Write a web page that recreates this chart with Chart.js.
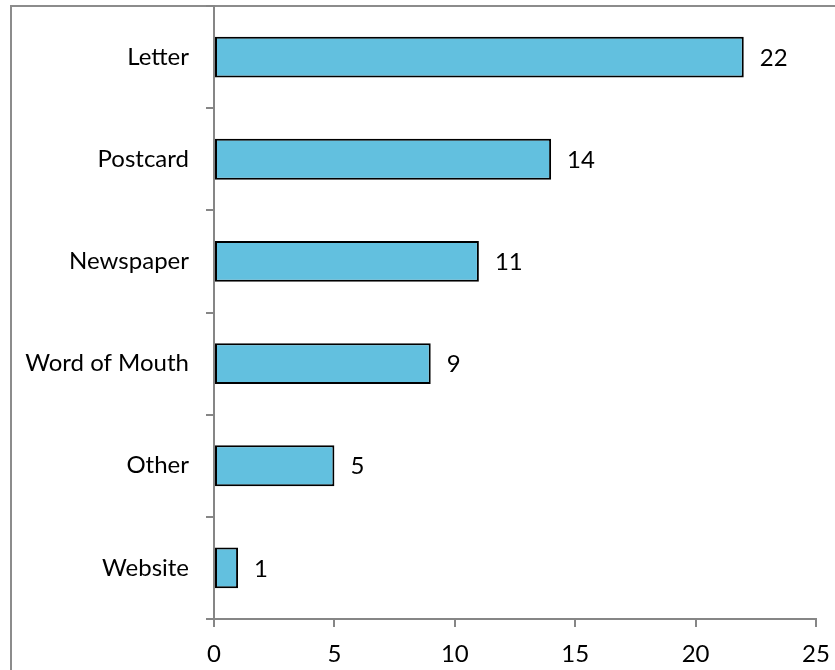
<!DOCTYPE html>
<html>
<head>
<meta charset="utf-8">
<script src="https://cdn.jsdelivr.net/npm/chart.js@4.4.1/dist/chart.umd.min.js"></script>
<style>
  html, body { margin: 0; padding: 0; background: #fff; }
  #wrap { width: 835px; height: 670px; }
</style>
</head>
<body>
<div id="wrap"><canvas id="c" width="835" height="670"></canvas></div>
<script>
const categories = ["Letter", "Postcard", "Newspaper", "Word of Mouth", "Other", "Website"];
const responses = [22, 14, 11, 9, 5, 1];
const xTicks = [0, 5, 10, 15, 20, 25];

const FONT = "Lato, 'Open Sans', sans-serif";
const FONT_SIZE = 24;
const AXIS_GRAY = "#868686";

// Outer frame around the chart
const framePlugin = {
  id: "frame",
  beforeDraw(chart) {
    const ctx = chart.ctx;
    ctx.save();
    ctx.strokeStyle = "#8c8c8c";
    ctx.lineWidth = 2;
    ctx.strokeRect(11, 6, chart.width + 20, chart.height + 20);
    ctx.restore();
  }
};

// Value labels to the right of each bar
const valueLabels = {
  id: "valueLabels",
  afterDatasetsDraw(chart) {
    const ctx = chart.ctx;
    const meta = chart.getDatasetMeta(0);
    ctx.save();
    ctx.font = FONT_SIZE + "px " + FONT;
    ctx.fillStyle = "#000";
    ctx.textAlign = "left";
    ctx.textBaseline = "middle";
    meta.data.forEach((bar, i) => {
      ctx.fillText(String(chart.data.datasets[0].data[i]), bar.x + 16, bar.y + 1);
    });
    ctx.restore();
  }
};

function noPad(s) {
  s.paddingTop = 0; s.paddingBottom = 0; s.paddingLeft = 0; s.paddingRight = 0;
}

new Chart(document.getElementById("c"), {
  type: "bar",
  data: {
    labels: categories,
    datasets: [{
      data: responses,
      backgroundColor: "#62c0df",
      borderColor: "#000",
      borderWidth: 2,
      borderSkipped: false,
      categoryPercentage: 1,
      barPercentage: 0.4
    }]
  },
  options: {
    indexAxis: "y",
    responsive: false,
    animation: false,
    devicePixelRatio: 1,
    layout: { padding: { left: 0, top: 6, right: 19, bottom: 0 } },
    plugins: { legend: { display: false }, tooltip: { enabled: false } },
    scales: {
      x: {
        min: 0,
        max: 25,
        afterFit(s) { s.height = 51; noPad(s); },
        afterBuildTicks(s) { s.ticks = xTicks.map(v => ({ value: v })); },
        grid: { drawOnChartArea: false, tickLength: 8, color: AXIS_GRAY, lineWidth: 2 },
        border: { color: AXIS_GRAY, width: 2 },
        ticks: { font: { family: FONT, size: FONT_SIZE }, color: "#000", padding: 13 }
      },
      y: {
        afterFit(s) { s.width = 214; noPad(s); },
        grid: { drawOnChartArea: false, tickLength: 8, color: AXIS_GRAY, lineWidth: 2 },
        border: { color: AXIS_GRAY, width: 2 },
        ticks: { font: { family: FONT, size: FONT_SIZE }, color: "#000", padding: 17 }
      }
    }
  },
  plugins: [framePlugin, valueLabels]
});
</script>
</body>
</html>
